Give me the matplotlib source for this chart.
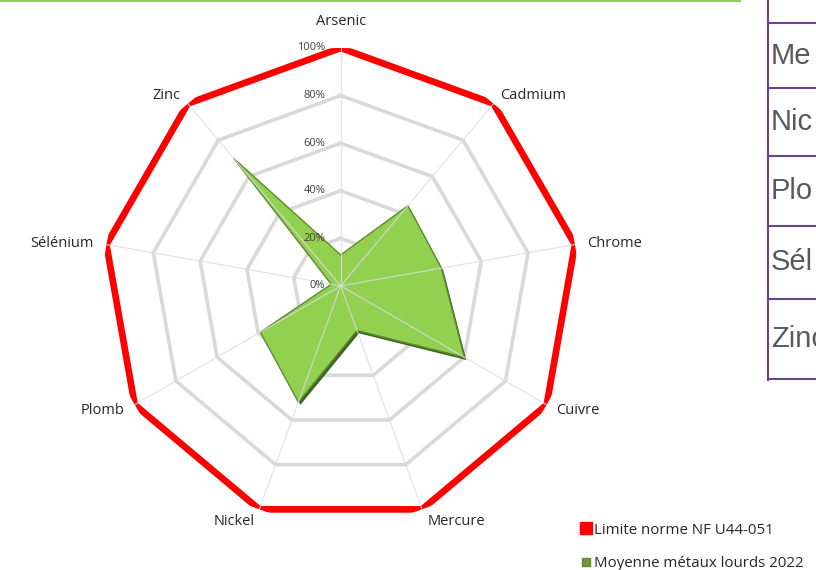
import numpy as np
import matplotlib.pyplot as plt
import matplotlib.patheffects as pe
from matplotlib.lines import Line2D

plt.rcParams['font.family'] = ['Open Sans', 'DejaVu Sans']

metaux = ['Arsenic', 'Cadmium', 'Chrome', 'Cuivre', 'Mercure', 'Nickel', 'Plomb', 'Sélénium', 'Zinc']
limite = [1.0] * 9
moyenne_2022 = [0.13, 0.44, 0.43, 0.60, 0.20, 0.52, 0.39, 0.04, 0.70]
niveaux = [0.2, 0.4, 0.6, 0.8]
niveaux_txt = ['0%', '20%', '40%', '60%', '80%', '100%']
table_rows = ['Me', 'Nic', 'Plo', 'Sél', 'Zinc']

# label offsets (points) per category, and alignment
lab_off = [(0, 19, 'center'), (5, 6, 'left'), (9, 1, 'left'), (7, -4, 'left'), (4, -9, 'left'),
           (-3, -9, 'right'), (-7, -4, 'right'), (-9, 1, 'right'), (-5, 6, 'right')]

n = len(metaux)
ang = np.arange(n) * 2 * np.pi / n
ang_c = np.append(ang, ang[0])

fig = plt.figure(figsize=(8.16, 5.70), dpi=100)
ax = fig.add_axes([0.126, 0.081, 0.583, 0.835], projection='polar')
ax.set_theta_offset(np.pi / 2)
ax.set_theta_direction(-1)
ax.set_ylim(0, 1)
ax.set_xticks([])
ax.set_yticks([])
ax.grid(False)
ax.spines['polar'].set_visible(False)
ax.patch.set_alpha(0)

for lv in niveaux:
    ax.plot(ang_c, [lv] * (n + 1), color='#d9d9d9', lw=2.6, zorder=1, solid_joinstyle='miter')

for a in ang:
    ax.plot([a, a], [0, 1], color='#dcdce8', lw=0.9, zorder=4, alpha=0.8)

ax.plot(ang_c, limite + [limite[0]], color='#ff0000', lw=4.8, zorder=2, solid_joinstyle='miter')

vals = moyenne_2022 + [moyenne_2022[0]]
ax.fill(ang_c, vals, facecolor='#92d050', edgecolor='#5e8c2e', lw=1.0, zorder=3,
        path_effects=[pe.SimplePatchShadow(offset=(1.5, -2), shadow_rgbFace='#3f6420', alpha=1), pe.Normal()])

for i, t in enumerate(niveaux_txt):
    ax.annotate(t, xy=(0, i * 0.2), xytext=(-11, 0), textcoords='offset points',
                ha='right', va='center', fontsize=8, color='#404040', zorder=5)

for i, m in enumerate(metaux):
    dx, dy, ha = lab_off[i]
    ax.annotate(m, xy=(ang[i], 1.0), xytext=(dx, dy), textcoords='offset points',
                ha=ha, va='center', fontsize=10.5, color='#262626', annotation_clip=False)

handles = [Line2D([], [], marker='s', color='#ff0000', ls='', ms=8),
           Line2D([], [], marker='s', color='#5e8c2e', mfc='#6a9a38', ls='', ms=5.5)]
fig.legend(handles, ['Limite norme NF U44-051', 'Moyenne métaux lourds 2022'],
           loc='lower left', bbox_to_anchor=(0.692, -0.026), frameon=False,
           fontsize=10.8, handletextpad=0.05, handlelength=1.0, labelspacing=1.25,
           labelcolor='#262626')

# top green rule
fig.add_artist(Line2D([0, 740 / 816], [0.998, 0.998], color='#92d050', lw=1.5))

# clipped table at right
purple = '#6b4487'
xl = 767.5 / 816
fig.add_artist(Line2D([xl, xl], [1, 1 - 380 / 570], color=purple, lw=1.5))
lines_y = [23, 88, 156, 226, 299, 379]
for yy in lines_y:
    fig.add_artist(Line2D([xl, 1], [1 - yy / 570] * 2, color=purple, lw=1.5))
for k, r in enumerate(table_rows):
    yc = (lines_y[k] + lines_y[k + 1]) / 2
    fig.text(771 / 816, 1 - yc / 570, r, ha='left', va='center', fontsize=21,
             color='#595959', family=['Liberation Sans', 'DejaVu Sans'])

fig.savefig('out.png', dpi=100)
